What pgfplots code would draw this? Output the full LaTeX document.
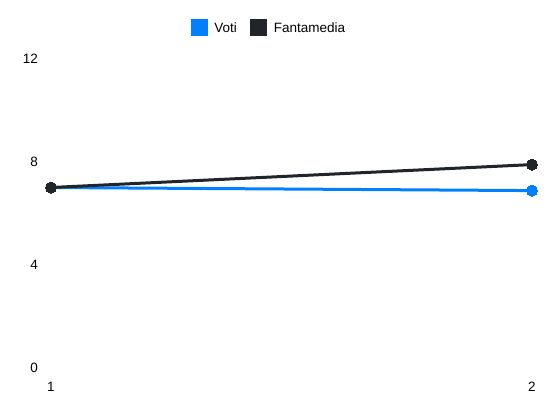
\documentclass[border=0pt]{standalone}
\usepackage{pgfplots}
\pgfplotsset{compat=1.18}
\usepackage{fontspec}
\setmainfont{Liberation Sans}
\definecolor{vblue}{RGB}{0,128,255}
\definecolor{vdark}{RGB}{33,37,41}
\begin{document}
\begin{tikzpicture}
\begin{axis}[
  scale only axis,
  width=481pt, height=308.9pt,
  xmin=1, xmax=2, ymin=0, ymax=12,
  xtick={1,2}, ytick={0,4,8,12},
  axis line style={draw=none},
  tick style={draw=none},
  major tick length=0pt,
  clip=false,
  font=\fontsize{13.5}{16}\selectfont,
  /pgf/number format/assume math mode=true,
  yticklabel style={anchor=east, inner sep=0pt, xshift=-13pt},
  xticklabel style={anchor=center, inner sep=0pt, yshift=-19pt},
  legend style={at={(0.451,1.1)}, anchor=center, draw=none, fill=none,
    legend columns=2, nodes={inner sep=0pt},
    /tikz/every odd column/.append style={column sep=6.6pt},
    /tikz/every even column/.append style={column sep=13.4pt}},
  legend image code/.code={\fill[#1] (0pt,-7pt) rectangle (14pt,7pt);},
]
\addplot[color=vblue, line width=3pt, mark=*, mark size=5.5pt, mark options={fill=vblue, draw=vblue, line width=0pt}] coordinates {(1,7) (2,6.88)};
\addlegendentry{Voti}
\addplot[color=vdark, line width=3pt, mark=*, mark size=5.5pt, mark options={fill=vdark, draw=vdark, line width=0pt}] coordinates {(1,7) (2,7.89)};
\addlegendentry{Fantamedia}
\end{axis}
\pgfresetboundingbox
\useasboundingbox (-51pt,-44.3pt) rectangle (499pt,367.7pt);
\end{tikzpicture}
\end{document}
